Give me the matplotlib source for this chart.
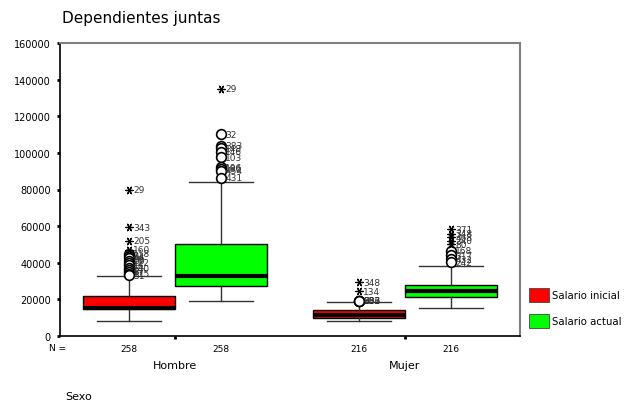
import matplotlib
matplotlib.use("Agg")
import matplotlib.pyplot as plt
from matplotlib.patches import Patch

# data
groups = ["Hombre", "Mujer"]
series = ["Salario inicial", "Salario actual"]
colors = ["#ff0000", "#00ff00"]
counts = [258, 258, 216, 216]

# order: Hombre inicial, Hombre actual, Mujer inicial, Mujer actual
whislo = [8400, 19300, 8400, 15300]
q1 = [14500, 27300, 10000, 21100]
med = [15300, 32600, 11400, 24400]
q3 = [22000, 50200, 14200, 28000]
whishi = [32800, 84000, 18400, 38400]

# outliers (circles) and extremes (stars) with case numbers
circ_vals = [
    [44800, 43500, 42500, 41000, 40000, 38500, 37000, 36000, 35000, 34000, 33200],
    [110300, 103900, 102500, 100600, 97600, 92100, 91200, 90300, 86300],
    [19300, 19300, 19300, 19300],
    [46600, 44200, 42000, 40200],
]
circ_ids = [
    ["118", "44", "96", "56", "122", "16", "140", "2", "87", "115", "51"],
    ["32", "383", "148", "146", "103", "106", "186", "454", "431"],
    ["63", "203", "356", "382"],
    ["168", "317", "432", "242"],
]
star_vals = [
    [79980, 59500, 52000, 47100],
    [135000],
    [29300, 24500],
    [58400, 55700, 53900, 52000, 50200],
]
star_ids = [
    ["29", "343", "205", "160"],
    ["29"],
    ["348", "134"],
    ["371", "348", "468", "240", "80"],
]

positions = [0.8, 1.2, 1.8, 2.2]

fig = plt.figure(figsize=(6.25, 4.10), dpi=100)
ax = fig.add_axes([60 / 625, 73 / 410, 460 / 625, 293 / 410])

stats = []
for i in range(4):
    stats.append(dict(whislo=whislo[i], q1=q1[i], med=med[i], q3=q3[i],
                      whishi=whishi[i], fliers=circ_vals[i]))

bp = ax.bxp(stats, positions=positions, widths=0.4, patch_artist=True,
            showfliers=True, capwidths=0.28,
            boxprops=dict(edgecolor="black", linewidth=1),
            medianprops=dict(color="black", linewidth=3, solid_capstyle="butt"),
            whiskerprops=dict(color="#333333", linewidth=1),
            capprops=dict(color="#333333", linewidth=1),
            flierprops=dict(marker="o", markersize=7, markerfacecolor="white",
                            markeredgecolor="black", markeredgewidth=1.2))
for i, box in enumerate(bp["boxes"]):
    box.set_facecolor(colors[i % 2])

lbl_kw = dict(fontsize=6.5, color="#333333", va="center", ha="left")
for i, x in enumerate(positions):
    ax.scatter([x] * len(star_vals[i]), star_vals[i], marker=(6, 2, 90),
               s=28, color="black", linewidths=0.9, zorder=4)
    for v, t in zip(star_vals[i], star_ids[i]):
        ax.annotate(t, (x, v), xytext=(3, 0), textcoords="offset points", **lbl_kw)
    for v, t in zip(circ_vals[i], circ_ids[i]):
        ax.annotate(t, (x, v), xytext=(3, 0), textcoords="offset points", **lbl_kw)

ax.set_xlim(0.5, 2.5)
ax.set_ylim(0, 160000)
ax.set_yticks(range(0, 160001, 20000))
ax.set_yticklabels([str(v) for v in range(0, 160001, 20000)], fontsize=7)
ax.set_xticks([1, 2])
ax.set_xticklabels([])
ax.tick_params(axis="both", length=2.5, width=2, color="black", direction="out", pad=4)

for s in ["left", "bottom"]:
    ax.spines[s].set_color("black")
    ax.spines[s].set_linewidth(1.2)
for s in ["top", "right"]:
    ax.spines[s].set_color("#808080")
    ax.spines[s].set_linewidth(1.5)

# N counts and group labels below the axis
trans = ax.get_xaxis_transform()
for x, n in zip(positions, counts):
    ax.text(x, -0.041, str(n), transform=trans, fontsize=6.5, ha="center", va="center")
for x, g in zip([1, 2], groups):
    ax.text(x, -0.099, g, transform=trans, fontsize=8, ha="center", va="center")
fig.text(58 / 625, 1 - 349 / 410, "N =", fontsize=6.5, ha="center", va="center")

fig.text(62 / 625, 1 - 18 / 410, "Dependientes juntas", fontsize=11, ha="left", va="center")
fig.text(65 / 625, 1 - 397 / 410, "Sexo", fontsize=8, ha="left", va="center")

handles = [Patch(facecolor=c, edgecolor="#444444", linewidth=0.6) for c in colors]
fig.legend(handles, series, loc="upper left", bbox_to_anchor=(525 / 625, 1 - 285 / 410),
           frameon=False, fontsize=7.3, handlelength=2.0, handleheight=1.8,
           labelspacing=1.1, handletextpad=0.25, borderaxespad=0)

fig.savefig("out.png", dpi=100)
